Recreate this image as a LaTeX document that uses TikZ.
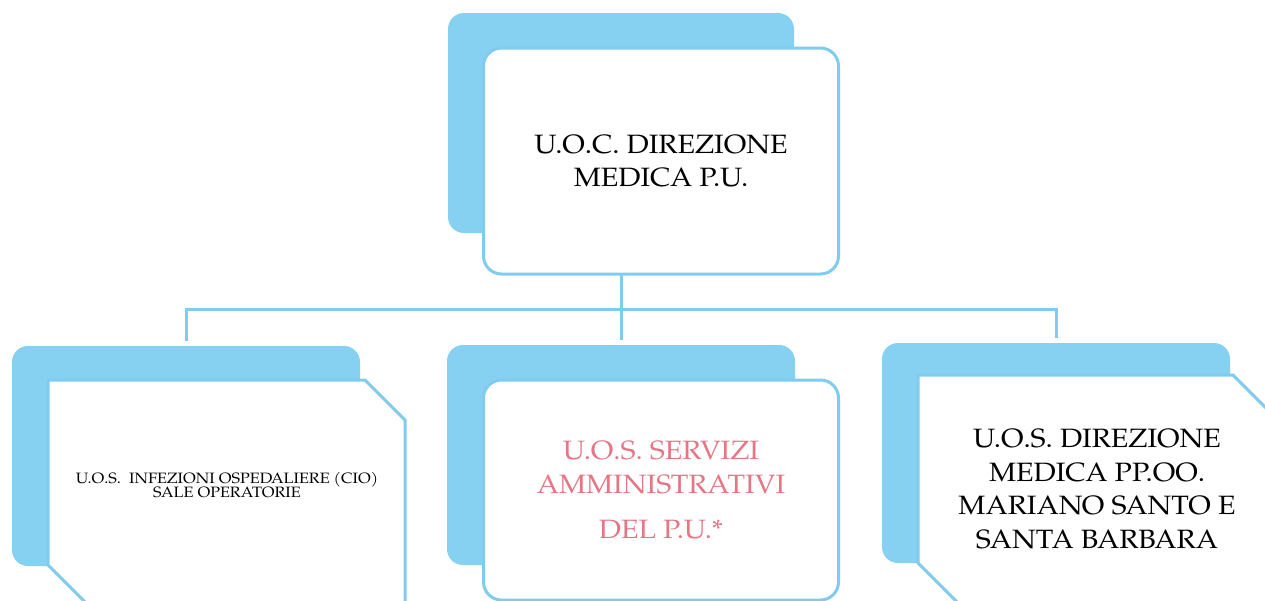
\documentclass[tikz,border=0pt]{standalone}
\usepackage{fontspec}
\setmainfont[FakeStretch=1.08]{TeX Gyre Pagella}
\definecolor{skyshade}{RGB}{134,209,241}
\definecolor{skyline}{RGB}{128,204,238}
\definecolor{rosetext}{RGB}{230,118,132}

\begin{document}
\begin{tikzpicture}[x=1pt, y=-1pt,
    shade box/.style={rectangle, rounded corners=16pt, fill=skyshade, minimum width=348pt, minimum height=220pt, inner sep=0pt},
    white box/.style={rectangle, rounded corners=18pt, draw=skyline, line width=3pt, fill=white, minimum width=355pt, minimum height=226pt, inner sep=0pt},
    cut box/.style={draw=skyline, line width=3pt, fill=white},
    big text/.style={font=\fontsize{26.5}{33.5}\selectfont, align=center},
    small text/.style={font=\fontsize{15}{14.5}\selectfont, align=center},
    link/.style={draw=skyline, line width=3pt}]
    \useasboundingbox (0,0) rectangle (1265,600);
    \clip (0,0) rectangle (1265,600);

    \node[shade box, minimum width=346pt] (topsh) at (621,123) {};
    \foreach \n/\x/\y in {leftsh/186/456, midsh/621/455, rightsh/1056/453} {
        \node[shade box] (\n) at (\x,\y) {};
    }

    \coordinate (bus) at (621,309);
    \draw[link, shorten >=5pt] (topsh.south) -- (midsh.north);
    \foreach \n in {leftsh, rightsh} {
        \draw[link, shorten >=5pt] (bus) -| (\n.north);
    }

    \node[white box, big text] (top) at (661,161) {U.O.C. DIREZIONE\\MEDICA P.U.};
    \node[white box, big text, text=rosetext, minimum height=220pt] (mid) at (661,490)
        {U.O.S. SERVIZI\\AMMINISTRATIVI\\[12pt]DEL P.U.*};

    \draw[cut box] (48,380) -- (365,380) -- (405,420) -- (405,606) -- (89,606) -- (48,565) -- cycle;
    \node[small text] (left) at (227,485) {U.O.S.\ \ INFEZIONI OSPEDALIERE (CIO)\\SALE OPERATORIE};

    \draw[cut box] (918,375) -- (1233,375) -- (1275,417) -- (1275,606) -- (961,606) -- (918,563) -- cycle;
    \node[big text] (right) at (1097,489) {U.O.S. DIREZIONE\\MEDICA PP.OO.\\MARIANO SANTO E\\SANTA BARBARA};
\end{tikzpicture}
\end{document}
